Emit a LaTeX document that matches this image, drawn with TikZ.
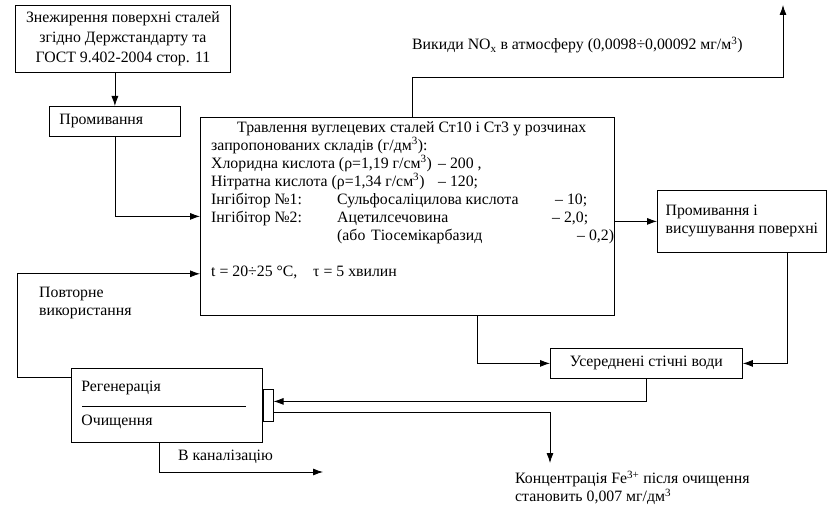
\documentclass[tikz,border=0pt]{standalone}
\usepackage{fontspec}
\setmainfont{Liberation Serif}
\usetikzlibrary{arrows.meta,positioning,calc}
\tikzset{
 box/.style={draw, line width=0.8pt, inner sep=0pt, font=\fontsize{15.8}{18}\selectfont},
 leftbox/.style={box, align=left, inner xsep=10pt},
 txt/.style={inner sep=0pt, align=left, font=\fontsize{15.8}{18}\selectfont},
 arrow/.style={-{Latex[length=10pt,width=7pt]}, line width=0.8pt},
 wire/.style={line width=0.8pt}
}

\begin{document}
\begin{tikzpicture}[x=1pt,y=-1pt]
\useasboundingbox (0,0) rectangle (836,508);
\node[box,anchor=north west,minimum width=215pt,minimum height=67pt,align=center,font=\fontsize{15.8}{20}\selectfont] (degrease) at (15,5) {Знежирення поверхні сталей\\згідно Держстандарту та\\ГОСТ 9.402-2004 стор. 11};
\node[leftbox,anchor=north west,text width=111pt,minimum height=30pt] (rinse1) at (49,106) {Промивання};
\node[box,anchor=north west,minimum width=414pt,minimum height=198pt] (etch) at (200,117) {};
\node[txt,anchor=north west] (etchtext) at (211,121) {\hspace*{26pt}Травлення вуглецевих сталей Ст10 і Ст3 у розчинах\\
запропонованих складів (г/дм\textsuperscript{3}):\\
\makebox[227pt][l]{Хлоридна кислота (ρ=1,19 г/см\textsuperscript{3})}– 200 ,\\
\makebox[227pt][l]{Нітратна кислота (ρ=1,34 г/см\textsuperscript{3})}– 120;\\
\makebox[126pt][l]{Інгібітор №1:}\makebox[218pt][l]{Сульфосаліцилова кислота}– 10;\\
\makebox[126pt][l]{Інгібітор №2:}\makebox[215pt][l]{Ацетилсечовина}– 2,0;\\
\hspace*{126pt}\makebox[34pt][l]{(або}\makebox[206pt][l]{Тіосемікарбазид}– 0,2)\\[18pt]
t = 20÷25 °C,\quad τ = 5 хвилин};
\node[box,anchor=north west,align=left,minimum width=169pt,minimum height=62pt] (rinse2) at (657,190) {Промивання і\\висушування поверхні};
\node[box,anchor=north west,minimum width=192pt,minimum height=30pt] (avg) at (550,348) {Усереднені стічні води};
\node[leftbox,anchor=north west,text width=171pt,minimum height=74pt] (regen) at (71,368) {Регенерація\\[16pt]Очищення};
\node[box,anchor=west,minimum width=10pt,minimum height=32pt] (port) at (regen.east) {};
\draw[wire] ($(regen.west)+(11,1)$) -- ($(regen.east)+(-17,1)$);
% labels
\node[txt,anchor=base west] (emission) at (412,50) {Викиди NO\textsubscript{x} в атмосферу (0,0098÷0,00092 мг/м\textsuperscript{3})};
\node[txt,anchor=north west] (reuselbl) at (39,287) {Повторне\\використання};
\node[txt,anchor=west] (sewerlbl) at (178,457) {В каналізацію};
\node[txt,anchor=north west] (felbl) at (515,471) {Концентрація Fe\textsuperscript{3+} після очищення\\становить 0,007 мг/дм\textsuperscript{3}};
\coordinate (air) at (783,5);
\coordinate (sewer) at (323,472);
\coordinate (fetip) at (550,463);
% flows
\draw[arrow] (degrease.south -| rinse1.north) -- (rinse1.north);
\draw[arrow] (rinse1.south) |- (etch.west);
\draw[arrow] ($(regen.north west)+(0,9)$) -- ++(-54,0) |- ($(etch.south west)+(0,-42)$);
\draw[arrow] ([xshift=5pt]etch.north) -- ++(0,-40) -| (air);
\draw[arrow] (etch.east |- rinse2.west) -- (rinse2.west);
\draw[arrow] ($(etch.south west)+(277,0)$) |- (avg.west);
\draw[arrow] ($(rinse2.south)+(45,0)$) |- (avg.east);
\draw[arrow] (avg.south) |- ($(port.east)+(0,-4)$);
\draw[arrow] ($(port.east)+(0,7)$) -| (fetip);
\draw[arrow] ($(regen.south west)+(88,0)$) |- (sewer);
\end{tikzpicture}
\end{document}
